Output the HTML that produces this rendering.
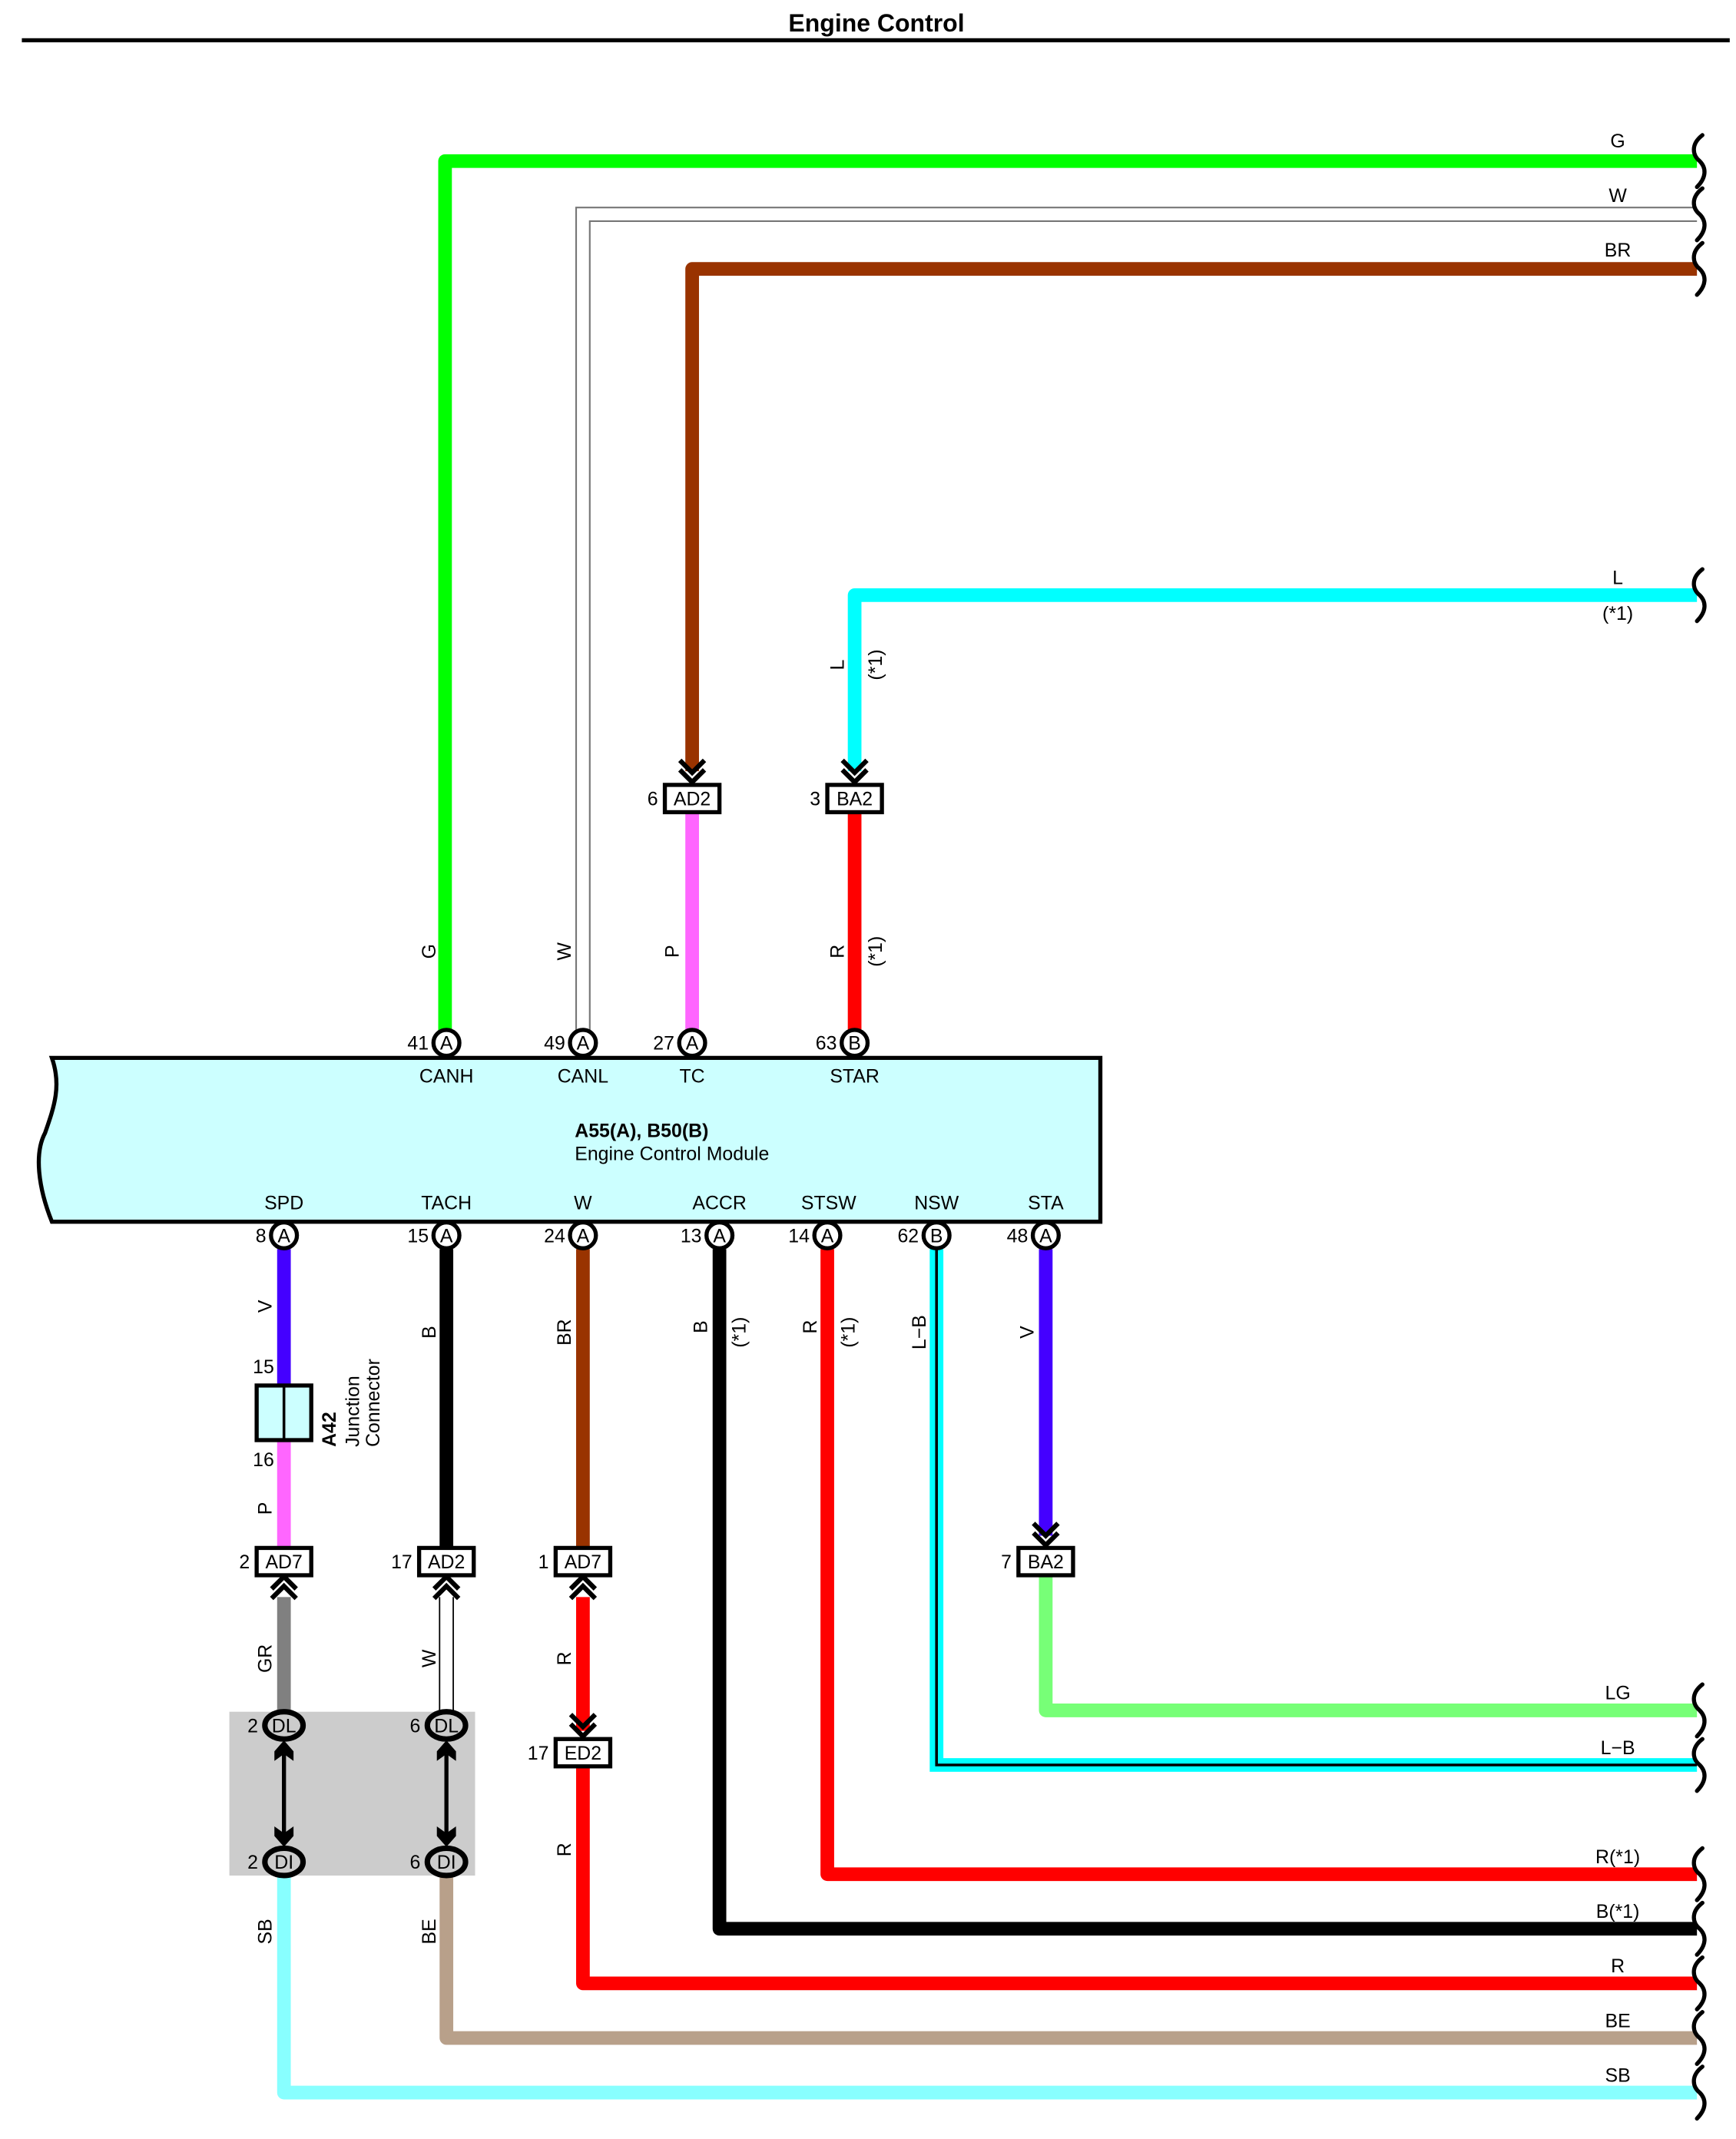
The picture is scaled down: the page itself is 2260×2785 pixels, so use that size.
<!DOCTYPE html>
<html><head><meta charset="utf-8"><style>
html,body{margin:0;padding:0;background:#fff;}
svg{display:block;}
text{font-family:"Liberation Sans",sans-serif;font-size:14px;fill:#000;}
.c{text-anchor:middle;}
.r{text-anchor:end;}
</style></head><body>
<svg width="2260" height="2785" viewBox="0 0 1271.6 1567" preserveAspectRatio="none" xmlns="http://www.w3.org/2000/svg">
<defs>
<g id="sq"><path d="M1247,-19 C1238,-12 1240,-4 1245,0 C1250,5 1250,12 1243,19" fill="none" stroke="#000" stroke-width="3" stroke-linecap="round"/></g>
<g id="dch"><polyline points="-9,-17 0,-8 9,-17" fill="none" stroke="#000" stroke-width="3.5"/><polyline points="-9,-10 0,-1 9,-10" fill="none" stroke="#000" stroke-width="3.5"/></g>
<g id="uch"><polyline points="-9,17 0,8 9,17" fill="none" stroke="#000" stroke-width="3.5"/><polyline points="-9,10 0,1 9,10" fill="none" stroke="#000" stroke-width="3.5"/></g>
</defs>
<text x="642" y="23" class="c" style="font-weight:bold;font-size:18px">Engine Control</text>
<rect x="16" y="28" width="1251" height="3" fill="#000"/>

<!-- top wires -->
<path d="M326,760 V118 H1243" fill="none" stroke="#00ff00" stroke-width="10" stroke-linejoin="round"/>
<path d="M422,760 V152 H1243 M432,760 V162 H1243" fill="none" stroke="#777" stroke-width="1.2"/>
<path d="M507,565 V197 H1243" fill="none" stroke="#993300" stroke-width="10" stroke-linejoin="round"/>
<path d="M626,565 V436 H1243" fill="none" stroke="#00ffff" stroke-width="10" stroke-linejoin="round"/>
<use href="#sq" y="118"/><use href="#sq" y="157"/><use href="#sq" y="197"/><use href="#sq" y="436"/>
<text x="1185" y="108" class="c">G</text>
<text x="1185" y="148" class="c">W</text>
<text x="1185" y="188" class="c">BR</text>
<text x="1185" y="428" class="c">L</text>
<text x="1185" y="454" class="c">(*1)</text>

<line x1="507" y1="596" x2="507" y2="756" stroke="#ff66ff" stroke-width="10"/>
<line x1="626" y1="596" x2="626" y2="756" stroke="#ff0000" stroke-width="10"/>
<use href="#dch" x="507" y="574"/><use href="#dch" x="626" y="574"/>
<rect x="487" y="575" width="40" height="20" fill="#fff" stroke="#000" stroke-width="3"/>
<text x="507" y="590" class="c">AD2</text><text x="482" y="590" class="r">6</text>
<rect x="606" y="575" width="40" height="20" fill="#fff" stroke="#000" stroke-width="3"/>
<text x="626" y="590" class="c">BA2</text><text x="601" y="590" class="r">3</text>

<g transform="translate(319,697) rotate(-90)"><text class="c">G</text></g>
<g transform="translate(418,697) rotate(-90)"><text class="c">W</text></g>
<g transform="translate(497,697) rotate(-90)"><text class="c">P</text></g>
<g transform="translate(618,697) rotate(-90)"><text class="c">R</text></g>
<g transform="translate(646,697) rotate(-90)"><text class="c">(*1)</text></g>
<g transform="translate(618,487) rotate(-90)"><text class="c">L</text></g>
<g transform="translate(646,487) rotate(-90)"><text class="c">(*1)</text></g>

<!-- ECM box -->
<path d="M38,775 H806 V895 H38 C28,870 25,845 33,830 C40,810 45,795 38,775 Z" fill="#ccffff" stroke="#000" stroke-width="3"/>
<text x="327" y="793" class="c">CANH</text>
<text x="427" y="793" class="c">CANL</text>
<text x="507" y="793" class="c">TC</text>
<text x="626" y="793" class="c">STAR</text>
<text x="421" y="833" style="font-weight:bold">A55(A), B50(B)</text>
<text x="421" y="850">Engine Control Module</text>
<text x="208" y="886" class="c">SPD</text>
<text x="327" y="886" class="c">TACH</text>
<text x="427" y="886" class="c">W</text>
<text x="527" y="886" class="c">ACCR</text>
<text x="607" y="886" class="c">STSW</text>
<text x="686" y="886" class="c">NSW</text>
<text x="766" y="886" class="c">STA</text>

<!-- bottom wires -->
<line x1="208" y1="915" x2="208" y2="1015" stroke="#4400ff" stroke-width="10"/>
<line x1="208" y1="1055" x2="208" y2="1134" stroke="#ff66ff" stroke-width="10"/>
<line x1="208" y1="1170" x2="208" y2="1256" stroke="#808080" stroke-width="10"/>
<line x1="327" y1="915" x2="327" y2="1134" stroke="#000" stroke-width="10"/>
<path d="M322,1170 V1256 M332,1170 V1256" stroke="#000" stroke-width="1"/>
<line x1="427" y1="915" x2="427" y2="1134" stroke="#993300" stroke-width="10"/>
<line x1="427" y1="1170" x2="427" y2="1268" stroke="#ff0000" stroke-width="10"/>
<path d="M427,1294 V1453 H1243" fill="none" stroke="#ff0000" stroke-width="10" stroke-linejoin="round"/>
<path d="M527,915 V1413 H1243" fill="none" stroke="#000" stroke-width="10" stroke-linejoin="round"/>
<path d="M606,915 V1373 H1243" fill="none" stroke="#ff0000" stroke-width="10" stroke-linejoin="round"/>
<path d="M686,915 V1293 H1243" fill="none" stroke="#00ffff" stroke-width="10"/>
<path d="M686,915 V1293 H1243" fill="none" stroke="#000" stroke-width="2"/>
<line x1="766" y1="915" x2="766" y2="1125" stroke="#4400ff" stroke-width="10"/>
<path d="M766,1154 V1253 H1243" fill="none" stroke="#77ff77" stroke-width="10" stroke-linejoin="round"/>

<!-- gray junction area -->
<rect x="168" y="1254" width="180" height="120" fill="#cccccc"/>
<path d="M208,1374 V1533 H1243" fill="none" stroke="#88ffff" stroke-width="10" stroke-linejoin="round"/>
<path d="M327,1374 V1493 H1243" fill="none" stroke="#b8a08a" stroke-width="10" stroke-linejoin="round"/>
<line x1="208" y1="1285" x2="208" y2="1345" stroke="#000" stroke-width="3"/>
<line x1="327" y1="1285" x2="327" y2="1345" stroke="#000" stroke-width="3"/>
<path d="M208,1275 L215,1283 V1290 L208,1285 L201,1290 V1283 Z M208,1353 L215,1345 V1338 L208,1343 L201,1338 V1345 Z" fill="#000"/>
<path d="M327,1275 L334,1283 V1290 L327,1285 L320,1290 V1283 Z M327,1353 L334,1345 V1338 L327,1343 L320,1338 V1345 Z" fill="#000"/>
<ellipse cx="208" cy="1264" rx="14" ry="10" fill="#ccc" stroke="#000" stroke-width="4"/>
<text x="208" y="1269" class="c">DL</text><text x="189" y="1269" class="r">2</text>
<ellipse cx="327" cy="1264" rx="14" ry="10" fill="#ccc" stroke="#000" stroke-width="4"/>
<text x="327" y="1269" class="c">DL</text><text x="308" y="1269" class="r">6</text>
<ellipse cx="208" cy="1364" rx="14" ry="10" fill="#ccc" stroke="#000" stroke-width="4"/>
<text x="208" y="1369" class="c">DI</text><text x="189" y="1369" class="r">2</text>
<ellipse cx="327" cy="1364" rx="14" ry="10" fill="#ccc" stroke="#000" stroke-width="4"/>
<text x="327" y="1369" class="c">DI</text><text x="308" y="1369" class="r">6</text>

<!-- junction connector A42 -->
<rect x="188" y="1015" width="40" height="40" fill="#ccffff" stroke="#000" stroke-width="3"/>
<line x1="208" y1="1015" x2="208" y2="1055" stroke="#000" stroke-width="2"/>
<text x="193" y="1006" class="c">15</text><text x="193" y="1074" class="c">16</text>
<g transform="translate(246,1060) rotate(-90)"><text style="font-weight:bold">A42</text></g>
<g transform="translate(263,1060) rotate(-90)"><text>Junction</text></g>
<g transform="translate(278,1060) rotate(-90)"><text>Connector</text></g>

<!-- connectors bottom -->
<use href="#uch" x="208" y="1154"/><use href="#uch" x="327" y="1154"/><use href="#uch" x="427" y="1154"/>
<use href="#dch" x="427" y="1273"/><use href="#dch" x="766" y="1133"/>
<rect x="188" y="1134" width="40" height="20" fill="#fff" stroke="#000" stroke-width="3"/>
<text x="208" y="1149" class="c">AD7</text><text x="183" y="1149" class="r">2</text>
<rect x="307" y="1134" width="40" height="20" fill="#fff" stroke="#000" stroke-width="3"/>
<text x="327" y="1149" class="c">AD2</text><text x="302" y="1149" class="r">17</text>
<rect x="407" y="1134" width="40" height="20" fill="#fff" stroke="#000" stroke-width="3"/>
<text x="427" y="1149" class="c">AD7</text><text x="402" y="1149" class="r">1</text>
<rect x="746" y="1134" width="40" height="20" fill="#fff" stroke="#000" stroke-width="3"/>
<text x="766" y="1149" class="c">BA2</text><text x="741" y="1149" class="r">7</text>
<rect x="407" y="1274" width="40" height="20" fill="#fff" stroke="#000" stroke-width="3"/>
<text x="427" y="1289" class="c">ED2</text><text x="402" y="1289" class="r">17</text>

<!-- rotated labels bottom -->
<g transform="translate(199,957) rotate(-90)"><text class="c">V</text></g>
<g transform="translate(319,976) rotate(-90)"><text class="c">B</text></g>
<g transform="translate(418,976) rotate(-90)"><text class="c">BR</text></g>
<g transform="translate(518,972) rotate(-90)"><text class="c">B</text></g>
<g transform="translate(546,976) rotate(-90)"><text class="c">(*1)</text></g>
<g transform="translate(598,972) rotate(-90)"><text class="c">R</text></g>
<g transform="translate(626,976) rotate(-90)"><text class="c">(*1)</text></g>
<g transform="translate(678,976) rotate(-90)"><text class="c">L−B</text></g>
<g transform="translate(757,976) rotate(-90)"><text class="c">V</text></g>
<g transform="translate(199,1105) rotate(-90)"><text class="c">P</text></g>
<g transform="translate(199,1215) rotate(-90)"><text class="c">GR</text></g>
<g transform="translate(319,1215) rotate(-90)"><text class="c">W</text></g>
<g transform="translate(418,1215) rotate(-90)"><text class="c">R</text></g>
<g transform="translate(418,1355) rotate(-90)"><text class="c">R</text></g>
<g transform="translate(199,1415) rotate(-90)"><text class="c">SB</text></g>
<g transform="translate(319,1415) rotate(-90)"><text class="c">BE</text></g>

<!-- right ends -->
<use href="#sq" y="1253"/><use href="#sq" y="1293"/><use href="#sq" y="1373"/><use href="#sq" y="1413"/><use href="#sq" y="1453"/><use href="#sq" y="1493"/><use href="#sq" y="1533"/>
<text x="1185" y="1245" class="c">LG</text>
<text x="1185" y="1285" class="c">L−B</text>
<text x="1185" y="1365" class="c">R(*1)</text>
<text x="1185" y="1405" class="c">B(*1)</text>
<text x="1185" y="1445" class="c">R</text>
<text x="1185" y="1485" class="c">BE</text>
<text x="1185" y="1525" class="c">SB</text>

<!-- pins -->
<g stroke="#000" stroke-width="3" fill="#fff">
<circle cx="327" cy="764" r="9.5"/><circle cx="427" cy="764" r="9.5"/><circle cx="507" cy="764" r="9.5"/><circle cx="626" cy="764" r="9.5"/>
<circle cx="208" cy="905" r="9.5"/><circle cx="327" cy="905" r="9.5"/><circle cx="427" cy="905" r="9.5"/><circle cx="527" cy="905" r="9.5"/><circle cx="606" cy="905" r="9.5"/><circle cx="686" cy="905" r="9.5"/><circle cx="766" cy="905" r="9.5"/>
</g>
<g style="font-size:13px">
<text x="327" y="769" class="c">A</text><text x="314" y="769" class="r">41</text>
<text x="427" y="769" class="c">A</text><text x="414" y="769" class="r">49</text>
<text x="507" y="769" class="c">A</text><text x="494" y="769" class="r">27</text>
<text x="626" y="769" class="c">B</text><text x="613" y="769" class="r">63</text>
<text x="208" y="910" class="c">A</text><text x="195" y="910" class="r">8</text>
<text x="327" y="910" class="c">A</text><text x="314" y="910" class="r">15</text>
<text x="427" y="910" class="c">A</text><text x="414" y="910" class="r">24</text>
<text x="527" y="910" class="c">A</text><text x="514" y="910" class="r">13</text>
<text x="606" y="910" class="c">A</text><text x="593" y="910" class="r">14</text>
<text x="686" y="910" class="c">B</text><text x="673" y="910" class="r">62</text>
<text x="766" y="910" class="c">A</text><text x="753" y="910" class="r">48</text>
</g>
</svg>
</body></html>
